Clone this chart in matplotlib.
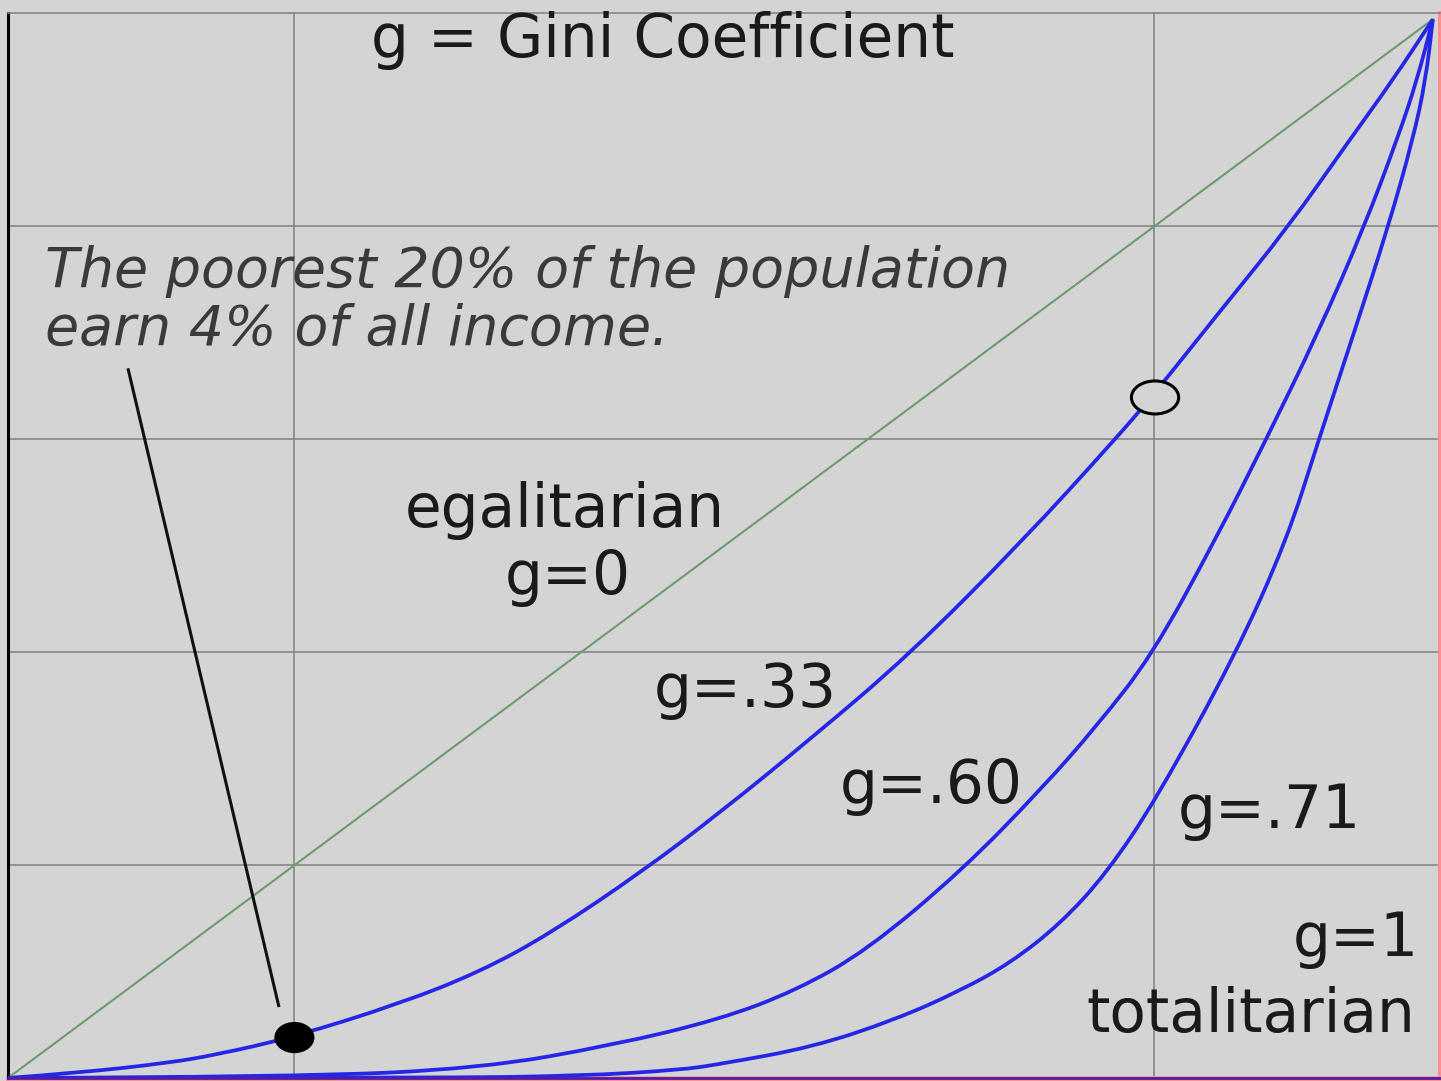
import matplotlib.pyplot as plt
from matplotlib.patches import Ellipse, PathPatch
from matplotlib.path import Path

# Lorenz curves (share of population, share of income)
pob_033 = [0, 0.05, 0.111, 0.146, 0.198, 0.274, 0.33, 0.379, 0.443, 0.497, 0.561, 0.629, 0.709, 0.772, 0.799, 0.847, 0.894, 0.937, 0.967, 0.995]
ing_033 = [0, 0.005, 0.014, 0.022, 0.038, 0.070, 0.10, 0.136, 0.194, 0.249, 0.319, 0.397, 0.505, 0.598, 0.640, 0.721, 0.799, 0.881, 0.937, 0.994]

pob_060 = [0, 0.2, 0.33, 0.423, 0.497, 0.55, 0.60, 0.667, 0.722, 0.76, 0.799, 0.843, 0.878, 0.915, 0.947, 0.970, 0.984, 0.995]
ing_060 = [0, 0.001, 0.009, 0.031, 0.055, 0.082, 0.120, 0.196, 0.272, 0.33, 0.397, 0.505, 0.598, 0.70, 0.799, 0.881, 0.937, 0.994]

pob_071 = [0, 0.3, 0.40, 0.469, 0.497, 0.562, 0.62, 0.665, 0.70, 0.735, 0.767, 0.802, 0.857, 0.893, 0.915, 0.94, 0.964, 0.981, 0.990, 0.995]
ing_071 = [0, 0.0, 0.002, 0.0075, 0.013, 0.029, 0.055, 0.082, 0.108, 0.145, 0.192, 0.262, 0.397, 0.505, 0.598, 0.70, 0.80, 0.881, 0.937, 0.994]

# g=0 and g=1 limits
pob_igual = [0, 0.995]
ing_igual = [0, 0.994]
pob_total = [0, 1, 1]
ing_total = [0, 0, 1]

# highlighted points
punto_pobre = (0.2, 0.038)
punto_rico = (0.801, 0.639)

# pointer line of the note
flecha_x = [0.084, 0.189]
flecha_y = [0.665, 0.068]

etiquetas = ["egalitarian", "g=0", "g=.33", "g=.60", "g=.71", "g=1", "totalitarian"]
etiq_x = [0.389, 0.391, 0.515, 0.645, 0.881, 0.941, 0.868]
etiq_y = [0.517, 0.454, 0.348, 0.258, 0.235, 0.115, 0.043]

nota = ["The poorest 20% of the population", "earn 4% of all income."]
nota_y = [0.743, 0.688]


def curva_suave(xs, ys):
    # quadratic bezier through the read points so the line is not jagged
    verts = [(xs[0], ys[0])]
    codes = [Path.MOVETO]
    for i in range(1, len(xs) - 1):
        verts += [(xs[i], ys[i]), ((xs[i] + xs[i + 1]) / 2, (ys[i] + ys[i + 1]) / 2)]
        codes += [Path.CURVE3, Path.CURVE3]
    verts.append((xs[-1], ys[-1]))
    codes.append(Path.LINETO)
    return Path(verts, codes)


fondo = "#d4d4d4"
fig = plt.figure(figsize=(14.41, 10.81), dpi=100, facecolor=fondo)
ax = fig.add_axes([8 / 1441, 3 / 1081, 1432 / 1441, 1065 / 1081])
ax.set_facecolor(fondo)
ax.set_xlim(0, 1)
ax.set_ylim(0, 1)

# grid (only two vertical lines in the original)
for yy in [0.2, 0.4, 0.6, 0.8]:
    ax.axhline(yy, color="#808080", lw=1.1, zorder=1)
for xx in [0.2, 0.8]:
    ax.axvline(xx, color="#808080", lw=1.1, zorder=1)

ax.plot(pob_total, ing_total, color="#ff8f8f", lw=3.5, clip_on=False, zorder=2)
ax.plot(pob_igual, ing_igual, color="#6f9a6f", lw=1.5, zorder=3)
for px, py in [(pob_033, ing_033), (pob_060, ing_060), (pob_071, ing_071)]:
    ax.add_patch(PathPatch(curva_suave(px, py), facecolor="none", edgecolor="#2626e6",
                           lw=2.7, zorder=4))
ax.plot([0, 1], [0, 0], color="#4a1fa8", lw=2.0, clip_on=False, zorder=4)

ax.plot(flecha_x, flecha_y, color="#111111", lw=2.2, zorder=5)
ax.add_patch(Ellipse(punto_pobre, 0.027, 0.028, color="black", zorder=6))
ax.add_patch(Ellipse(punto_rico, 0.033, 0.031, facecolor=fondo, edgecolor="black", lw=2.2, zorder=6))

ax.text(0.457, 0.959, "g = Gini Coefficient", fontsize=43, ha="center", va="baseline", color="#1a1a1a")
for linea, yy in zip(nota, nota_y):
    ax.text(0.026, yy, linea, fontsize=40, style="italic", ha="left", va="baseline", color="#3a3a3a")
for t, xx, yy in zip(etiquetas, etiq_x, etiq_y):
    ax.text(xx, yy, t, fontsize=43, ha="center", va="baseline", color="#1a1a1a")

ax.set_xticks([])
ax.set_yticks([])
ax.spines["left"].set_color("black")
ax.spines["left"].set_linewidth(2.2)
ax.spines["top"].set_color("#808080")
ax.spines["top"].set_linewidth(1.1)
ax.spines["right"].set_visible(False)
ax.spines["bottom"].set_visible(False)

fig.savefig("out.png", dpi=100, facecolor=fondo)
